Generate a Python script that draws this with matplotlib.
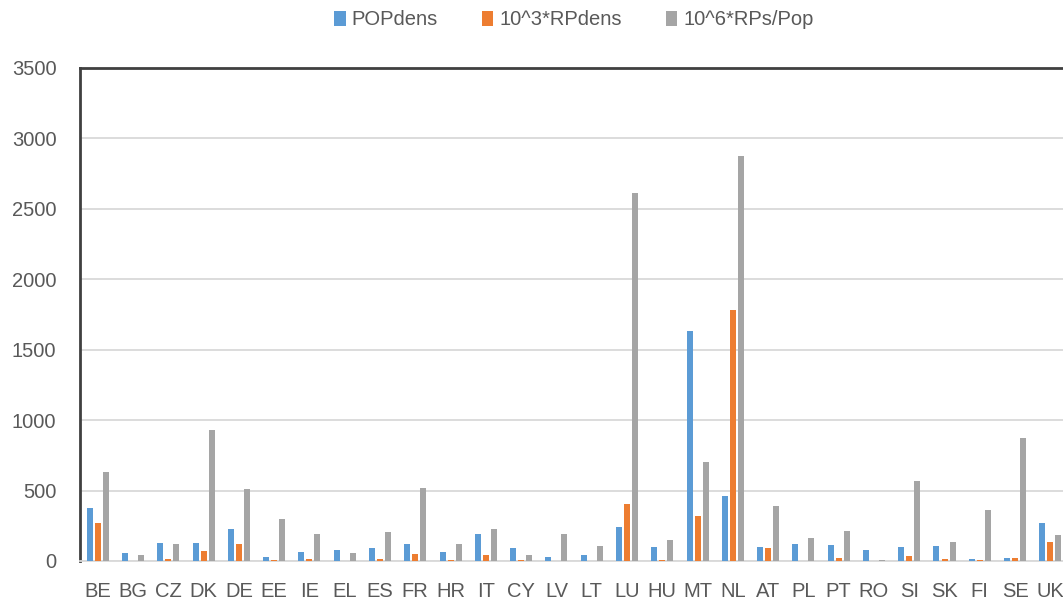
import matplotlib.pyplot as plt
import numpy as np

plt.rcParams['font.family'] = ['Liberation Sans', 'DejaVu Sans']

countries = ["BE", "BG", "CZ", "DK", "DE", "EE", "IE", "EL", "ES", "FR", "HR", "IT", "CY", "LV",
             "LT", "LU", "HU", "MT", "NL", "AT", "PL", "PT", "RO", "SI", "SK", "FI", "SE", "UK"]
pop_dens = [374, 57, 130, 130, 229, 26, 66, 78, 90, 121, 66, 192, 92, 26,
            40, 239, 102, 1633, 461, 102, 118, 111, 78, 99, 109, 12, 21, 270]
rp_dens = [272, 0, 12, 71, 121, 7, 14, 0, 14, 50, 8, 40, 4, 0,
           0, 405, 10, 317, 1782, 94, 0, 24, 0, 35, 14, 7, 21, 135]
rps_pop = [632, 40, 118, 928, 511, 298, 189, 59, 206, 518, 121, 227, 43, 194,
           104, 2612, 149, 700, 2875, 390, 166, 213, 9, 570, 135, 362, 871, 185]

series = [("POPdens", pop_dens, "#5B9BD5"),
          ("10^3*RPdens", rp_dens, "#ED7D31"),
          ("10^6*RPs/Pop", rps_pop, "#A5A5A5")]

fig = plt.figure(figsize=(10.63, 6.01), dpi=100)
ax = fig.add_axes([0.0753, 0.0666, 0.9294, 0.8203])

x = np.arange(len(countries))
w = 0.17
step = 0.227
for i, (name, vals, col) in enumerate(series):
    ax.bar(x + (i - 1) * step, vals, width=w, color=col, label=name, zorder=3)

ax.set_xlim(-0.5, len(countries) - 0.5)
ax.set_ylim(0, 3500)
ax.set_yticks(np.arange(0, 3501, 500))
ax.set_xticks(x)
ax.set_xticklabels(countries)
ax.grid(axis='y', color='#D9D9D9', linewidth=1.3, zorder=0)
ax.tick_params(axis='both', length=0, labelsize=14.5, colors='#595959')
ax.tick_params(axis='x', pad=15)
ax.tick_params(axis='y', pad=17)

for s in ['left', 'top']:
    ax.spines[s].set_color('#404040')
    ax.spines[s].set_linewidth(2)
ax.spines['right'].set_visible(False)
ax.spines['bottom'].set_color('#D9D9D9')
ax.spines['bottom'].set_linewidth(1.3)

fig.legend(loc='upper center', bbox_to_anchor=(0.54, 1.013), ncol=3, frameon=False,
           fontsize=14.5, handlelength=0.55, handleheight=0.8, handletextpad=0.3,
           columnspacing=2.2, labelcolor='#595959')

fig.savefig("out.png", dpi=100)
